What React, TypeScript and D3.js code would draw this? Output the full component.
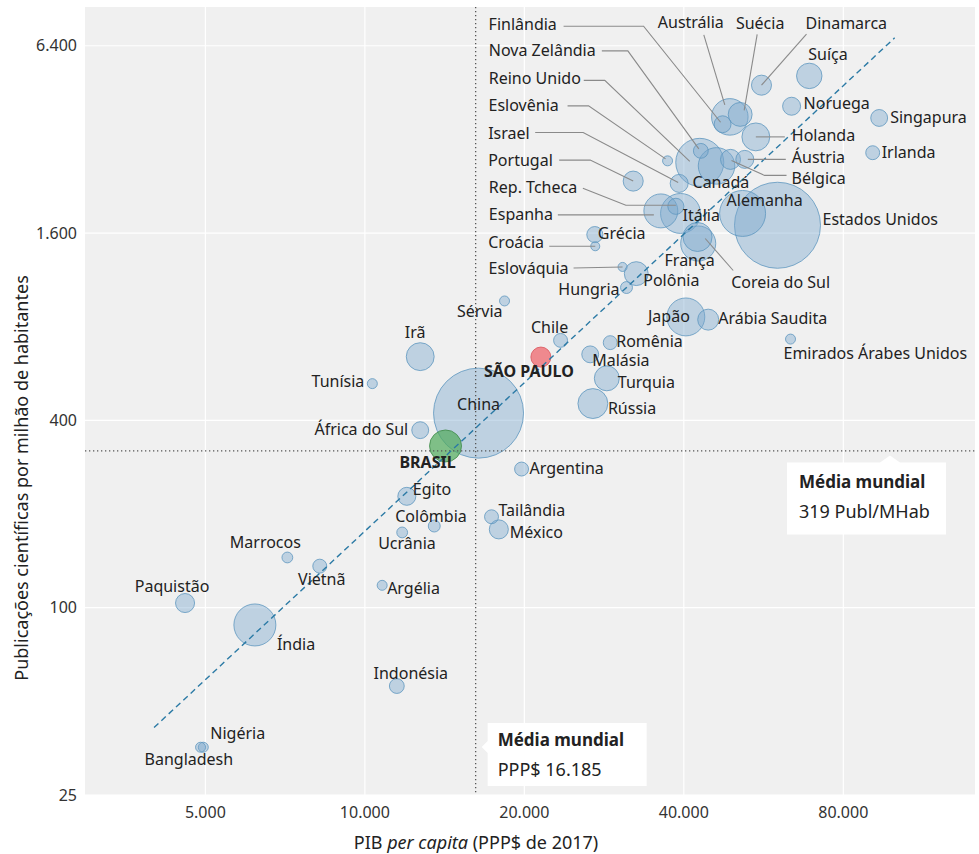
import React, { useEffect, useRef } from "react";
import * as d3 from "d3";

// Countries (and São Paulo state) – GDP per capita, publications per million inhabitants,
// total publications (thousands, used for bubble size)
const countries = [
  "Dinamarca", "Suíça", "Noruega", "Singapura", "Irlanda", "Austrália", "Suécia", "Finlândia",
  "Holanda", "Áustria", "Bélgica", "Canadá", "Reino Unido", "Nova Zelândia", "Eslovênia", "Israel",
  "Portugal", "Rep. Tcheca", "Espanha", "Itália", "Alemanha", "Estados Unidos", "França", "Coreia do Sul",
  "Grécia", "Croácia", "Eslováquia", "Polônia", "Hungria", "Sérvia", "Chile", "São Paulo",
  "Irã", "China", "África do Sul", "Brasil", "Argentina", "Romênia", "Malásia", "Turquia",
  "Rússia", "Japão", "Arábia Saudita", "Emirados Árabes Unidos", "Tunísia", "Egito", "Colômbia", "Ucrânia",
  "Argélia", "Tailândia", "México", "Marrocos", "Vietnã", "Paquistão", "Índia", "Indonésia",
  "Nigéria", "Bangladesh",
];
const gdpPerCapita = [
  56060, 69000, 63900, 93500, 90900, 48850, 51100, 47340,
  54700, 52140, 49000, 46110, 42870, 43070, 37270, 39200,
  32100, 38640, 36200, 39430, 51640, 60100, 42460, 42580,
  27170, 27220, 30650, 32530, 31180, 18350, 23410, 21490,
  12720, 16390, 12720, 14200, 19760, 29050, 26630, 28620,
  26940, 40350, 44470, 63600, 10330, 12000, 13520, 11760,
  10780, 17340, 17900, 7140, 8220, 4577, 6200, 11490,
  4955, 4896,
];
const pubsPerMillion = [
  4780, 5120, 4090, 3750, 2900, 3780, 3850, 3580,
  3260, 2760, 2760, 2630, 2700, 2940, 2730, 2310,
  2350, 1950, 1885, 1850, 1850, 1695, 1554, 1481,
  1582, 1451, 1245, 1185, 1069, 968, 723, 639,
  641, 422, 372, 331, 279, 711, 652, 546,
  453, 860, 843, 730, 525, 228, 183, 174.5,
  118, 196, 178.5, 145, 136, 103.5, 88, 56,
  35.6, 35.6,
];
const totalPubs = [
  31, 50, 25, 22, 15, 103, 44, 22,
  60, 25, 31, 103, 178, 17, 7.7, 25,
  31, 20, 89, 123, 163, 571, 65, 95,
  20, 6.3, 6.3, 44, 11, 7.7, 15, 31,
  60, 625, 22, 79, 15, 15, 22, 48,
  69, 111, 34, 7.7, 7.7, 25, 11, 9,
  7.7, 15, 28, 9, 15, 28, 136, 17,
  7.7, 7.7,
];

const xTicks = [5000, 10000, 20000, 40000, 80000];
const yTicks = [25, 100, 400, 1600, 6400];
const worldGdp = 16185;
const worldPubs = 319;
// regression (dashed) line endpoints
const trendGdp = [4000, 100000];
const trendPubs = [41.2, 6785];

// label placement relative to the bubble centre
type Lab = { dx: number; dy: number; anchor?: string; leader?: [number, number][]; text?: string; bold?: boolean };
const labelLayout: Record<string, Lab> = {
  "Finlândia": { dx: -234, dy: -100, leader: [[-159, -98], [-79, -98], [-2, -2]] },
  "Nova Zelândia": { dx: -212, dy: -100, leader: [[-99, -100], [-73, -100], [-2, -2]] },
  "Reino Unido": { dx: -211, dy: -84, leader: [[-116, -82], [-95, -82], [-10, -1]] },
  "Eslovênia": { dx: -179, dy: -55, leader: [[-100, -55], [-79, -55], [-2, -2]] },
  "Israel": { dx: -191, dy: -50, leader: [[-144, -51], [-96, -51], [-1, -1]] },
  "Portugal": { dx: -145, dy: -21, leader: [[-74, -21], [-43, -21], [0, 0]] },
  "Rep. Tcheca": { dx: -187, dy: -19, leader: [[-93, -18], [-50, -1], [0, -1]] },
  "Espanha": { dx: -172, dy: 3, leader: [[-103, 4], [-7, 4]] },
  "Croácia": { dx: -107, dy: -4, leader: [[-46, 0], [0, 0]] },
  "Eslováquia": { dx: -134, dy: 1, leader: [[-49, 1], [0, 0]] },
  "Austrália": { dx: -39, dy: -94, anchor: "middle", leader: [[-26, -82], [-5, -12]] },
  "Suécia": { dx: 20, dy: -91, anchor: "middle", leader: [[17, -80], [4, -4]] },
  "Dinamarca": { dx: 44, dy: -62, leader: [[45, -51], [0, 0]] },
  "Holanda": { dx: 36, dy: -1, leader: [[29, 0], [0, 0]] },
  "Áustria": { dx: 47, dy: -2, leader: [[41, 0], [3, 0]] },
  "Bélgica": { dx: 61, dy: 19, leader: [[56, 16], [34, 16], [1, 1]] },
  "Coreia do Sul": { dx: 33, dy: 39, leader: [[35, 27], [7, -5]] },
  "Suíça": { dx: -1, dy: -21 },
  "Noruega": { dx: 12, dy: -3 },
  "Singapura": { dx: 11, dy: -1 },
  "Irlanda": { dx: 9, dy: 0 },
  "Canadá": { dx: -24, dy: 16 },
  "Alemanha": { dx: -16, dy: -13 },
  "Estados Unidos": { dx: 45, dy: -6 },
  "Itália": { dx: 2, dy: 2 },
  "Grécia": { dx: 3, dy: -1 },
  "França": { dx: -33, dy: 23 },
  "Polônia": { dx: 7, dy: 7 },
  "Hungria": { dx: -7, dy: 2, anchor: "end" },
  "Sérvia": { dx: -2, dy: 10, anchor: "end" },
  "Chile": { dx: -11, dy: -13, anchor: "middle" },
  "São Paulo": { dx: -12, dy: 14, anchor: "middle", text: "SÃO PAULO", bold: true },
  "Irã": { dx: -5, dy: -24, anchor: "middle" },
  "China": { dx: 0, dy: -9, anchor: "middle" },
  "África do Sul": { dx: -12, dy: -1, anchor: "end" },
  "Brasil": { dx: -18, dy: 16, anchor: "middle", text: "BRASIL", bold: true },
  "Argentina": { dx: 8, dy: -1 },
  "Japão": { dx: 4, dy: -1, anchor: "end" },
  "Arábia Saudita": { dx: 10, dy: -1 },
  "Romênia": { dx: 6, dy: -1 },
  "Malásia": { dx: 2, dy: 6 },
  "Turquia": { dx: 11, dy: 4 },
  "Rússia": { dx: 15, dy: 5 },
  "Emirados Árabes Unidos": { dx: -7, dy: 14 },
  "Tunísia": { dx: -8, dy: -2, anchor: "end" },
  "Egito": { dx: 6, dy: -7 },
  "Colômbia": { dx: -39, dy: -10 },
  "Ucrânia": { dx: -24, dy: 11 },
  "Argélia": { dx: 5, dy: 3 },
  "Tailândia": { dx: 7, dy: -6 },
  "México": { dx: 11, dy: 3 },
  "Marrocos": { dx: -22, dy: -15, anchor: "middle" },
  "Vietnã": { dx: 2, dy: 13, anchor: "middle" },
  "Paquistão": { dx: -13, dy: -17, anchor: "middle" },
  "Índia": { dx: 22, dy: 19 },
  "Indonésia": { dx: 14, dy: -13, anchor: "middle" },
  "Nigéria": { dx: 7, dy: -14 },
  "Bangladesh": { dx: -56, dy: 12 },
};

const FONT = "'Noto Sans', sans-serif";

export default function App() {
  const ref = useRef<SVGSVGElement>(null);

  useEffect(() => {
    const svg = d3.select(ref.current);
    svg.selectAll("*").remove();

    const width = 979, height = 854;
    const margin = { top: 7, right: 4, bottom: 59, left: 85 };

    const x = d3.scaleLog().domain([2963, 141800]).range([margin.left, width - margin.right]);
    const y = d3.scaleLog().domain([25, 8525]).range([height - margin.bottom, margin.top]);
    const r = d3.scaleSqrt().domain([0, d3.max(totalPubs) as number]).range([0, 45]);

    const fmt = d3.formatLocale({ decimal: ",", thousands: ".", grouping: [3], currency: ["", ""] }).format(",");

    const data = countries.map((name, i) => ({
      name, gdp: gdpPerCapita[i], pubs: pubsPerMillion[i], total: totalPubs[i],
    }));

    // plot background + grid
    svg.append("rect")
      .attr("x", margin.left).attr("y", margin.top)
      .attr("width", width - margin.left - margin.right)
      .attr("height", height - margin.top - margin.bottom)
      .attr("fill", "#f0f0f0");

    svg.append("g").selectAll("line").data(xTicks).join("line")
      .attr("x1", d => x(d)).attr("x2", d => x(d))
      .attr("y1", margin.top).attr("y2", height - margin.bottom)
      .attr("stroke", "#fff").attr("stroke-width", 1.2);
    svg.append("g").selectAll("line").data(yTicks).join("line")
      .attr("y1", d => y(d)).attr("y2", d => y(d))
      .attr("x1", margin.left).attr("x2", width - margin.right)
      .attr("stroke", "#fff").attr("stroke-width", 1.2);

    // tick labels
    svg.append("g").selectAll("text").data(xTicks).join("text")
      .attr("x", d => x(d)).attr("y", height - margin.bottom + 17)
      .attr("text-anchor", "middle").attr("dy", "0.35em")
      .attr("font-family", FONT).attr("font-size", 16).attr("fill", "#333")
      .text(d => fmt(d));
    svg.append("g").selectAll("text").data(yTicks).join("text")
      .attr("x", margin.left - 8).attr("y", d => y(d))
      .attr("text-anchor", "end").attr("dy", "0.35em")
      .attr("font-family", FONT).attr("font-size", 16).attr("fill", "#333")
      .text(d => fmt(d));

    // axis titles
    const xt = svg.append("text")
      .attr("x", 476).attr("y", 843).attr("dy", "0.35em")
      .attr("text-anchor", "middle")
      .attr("font-family", FONT).attr("font-size", 18).attr("fill", "#222");
    xt.append("tspan").text("PIB ");
    xt.append("tspan").attr("font-style", "italic").text("per capita");
    xt.append("tspan").text(" (PPP$ de 2017)");

    svg.append("text")
      .attr("transform", "translate(22,478) rotate(-90)")
      .attr("dy", "0.35em").attr("text-anchor", "middle")
      .attr("font-family", FONT).attr("font-size", 18).attr("fill", "#222")
      .text("Publicações científicas por milhão de habitantes");

    // bubbles
    const fillOf = (n: string) => n === "São Paulo" ? "#ef6f75" : n === "Brasil" ? "#4fa95a" : "#7aa8cc";
    const strokeOf = (n: string) => n === "São Paulo" ? "#d9545b" : n === "Brasil" ? "#3f8a48" : "#5f97bf";
    const opOf = (n: string) => n === "São Paulo" ? 0.8 : n === "Brasil" ? 0.7 : 0.42;

    const sorted = [...data].sort((a, b) => b.total - a.total);
    svg.append("g").selectAll("circle").data(sorted).join("circle")
      .attr("cx", d => x(d.gdp)).attr("cy", d => y(d.pubs))
      .attr("r", d => r(d.total))
      .attr("fill", d => fillOf(d.name)).attr("fill-opacity", d => opOf(d.name))
      .attr("stroke", d => strokeOf(d.name)).attr("stroke-opacity", 0.8).attr("stroke-width", 1);

    // world averages (dotted)
    svg.append("line")
      .attr("x1", x(worldGdp)).attr("x2", x(worldGdp))
      .attr("y1", margin.top).attr("y2", height - margin.bottom)
      .attr("stroke", "#555").attr("stroke-width", 1.3).attr("stroke-dasharray", "1.3,2.7");
    svg.append("line")
      .attr("x1", margin.left).attr("x2", width - margin.right)
      .attr("y1", y(worldPubs)).attr("y2", y(worldPubs))
      .attr("stroke", "#555").attr("stroke-width", 1.3).attr("stroke-dasharray", "1.3,2.7");

    // trend line
    svg.append("path")
      .datum(trendGdp.map((g, i) => [g, trendPubs[i]]))
      .attr("d", d3.line<number[]>().x(d => x(d[0])).y(d => y(d[1])))
      .attr("fill", "none").attr("stroke", "#2b7aa5").attr("stroke-width", 1.4)
      .attr("stroke-dasharray", "6,4");

    // leader lines
    const lg = svg.append("g");
    data.forEach(d => {
      const L = labelLayout[d.name];
      if (!L || !L.leader) return;
      const cx = x(d.gdp), cy = y(d.pubs);
      lg.append("polyline")
        .attr("points", L.leader.map(p => `${cx + p[0]},${cy + p[1]}`).join(" "))
        .attr("fill", "none").attr("stroke", "#8a8a8a").attr("stroke-width", 1.1);
    });

    // labels
    svg.append("g").selectAll("text").data(data).join("text")
      .attr("x", d => x(d.gdp) + (labelLayout[d.name]?.dx ?? 0))
      .attr("y", d => y(d.pubs) + (labelLayout[d.name]?.dy ?? 0))
      .attr("dy", "0.35em")
      .attr("text-anchor", d => labelLayout[d.name]?.anchor ?? "start")
      .attr("font-family", FONT).attr("font-size", 16)
      .attr("font-weight", d => labelLayout[d.name]?.bold ? 700 : 400)
      .attr("fill", "#222")
      .text(d => labelLayout[d.name]?.text ?? d.name);

    // annotation boxes
    const gx = x(worldGdp);
    const b1 = svg.append("g").attr("transform", `translate(${gx + 12},${723})`);
    b1.append("path")
      .attr("d", "M0,0 H159 V63 H0 V30 L-6,24 L0,18 Z")
      .attr("fill", "#fff");
    b1.append("text").attr("x", 10).attr("y", 17).attr("dy", "0.35em")
      .attr("font-family", FONT).attr("font-size", 17).attr("font-weight", 700).attr("fill", "#222")
      .text("Média mundial");
    b1.append("text").attr("x", 10).attr("y", 47).attr("dy", "0.35em")
      .attr("font-family", FONT).attr("font-size", 18).attr("fill", "#222")
      .text("PPP$ 16.185");

    const gy = y(worldPubs);
    const b2 = svg.append("g").attr("transform", `translate(${787},${gy + 11.5})`);
    b2.append("path")
      .attr("d", "M0,0 H93 L103,-7 L113,0 H159 V72 H0 Z")
      .attr("fill", "#fff");
    b2.append("text").attr("x", 12).attr("y", 20).attr("dy", "0.35em")
      .attr("font-family", FONT).attr("font-size", 17).attr("font-weight", 700).attr("fill", "#222")
      .text("Média mundial");
    b2.append("text").attr("x", 12).attr("y", 49).attr("dy", "0.35em")
      .attr("font-family", FONT).attr("font-size", 18).attr("fill", "#222")
      .text("319 Publ/MHab");
  }, []);

  return (
    <svg ref={ref} width={979} height={854}
      style={{ position: "absolute", left: 0, top: 0, background: "#fff" }} />
  );
}
